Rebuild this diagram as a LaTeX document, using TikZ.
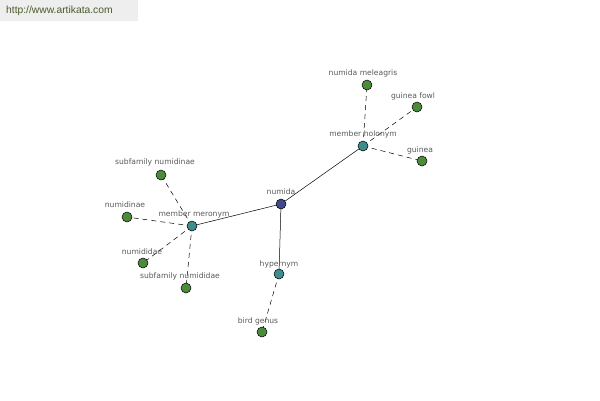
\documentclass[tikz,border=0pt]{standalone}
\usepackage{fontspec}
\setmainfont{Liberation Sans}
\newfontfamily\lblfont{DejaVu Sans}
\begin{document}
\begin{tikzpicture}[x=1pt,y=-1pt,
  dot/.style={circle,draw=black,line width=0.5pt,minimum size=10pt,inner sep=0pt},
  hubc/.style={dot,fill=cCenter},
  relc/.style={dot,fill=cRel},
  leafc/.style={dot,fill=cLeaf},
  lbl/.style={font=\lblfont\fontsize{7.6}{8}\selectfont,text=black!65,inner sep=0pt},
  solidedge/.style={draw=black,line width=0.5pt},
  dashedge/.style={draw=black,line width=0.5pt,dash pattern=on 5pt off 4pt}]
\definecolor{cCenter}{HTML}{3F4A8C}
\definecolor{cRel}{HTML}{3F8C8C}
\definecolor{cLeaf}{HTML}{4C8A3C}
\definecolor{bannerbg}{HTML}{EEEEEE}
\definecolor{bannertx}{HTML}{4A5A2A}
\useasboundingbox (0,0) rectangle (600,400);
\fill[white] (0,0) rectangle (600,400);
\fill[bannerbg] (0,0) rectangle (138,21);
\node[anchor=west,font=\fontsize{10.3}{11}\selectfont,text=bannertx,inner sep=0pt] (url) at (6,11) {http://www.artikata.com};
% nodes
\coordinate (pnumida) at (281,204);
\coordinate (pmero) at (192,226);
\coordinate (pholo) at (363,146);
\coordinate (phyper) at (279,274);
\coordinate (pmel) at (367,85);
\coordinate (pfowl) at (417,107);
\coordinate (pguinea) at (422,161);
\coordinate (psubnumidinae) at (161,175);
\coordinate (pnumidinae) at (127,217);
\coordinate (pnumididae) at (143,263);
\coordinate (psubnumididae) at (186,288);
\coordinate (pbird) at (262,332);
% edges
\draw[solidedge] (pnumida) -- (pmero);
\draw[solidedge] (pnumida) -- (pholo);
\draw[solidedge] (pnumida) -- (phyper);
\draw[dashedge] (pholo) -- (pmel);
\draw[dashedge] (pholo) -- (pfowl);
\draw[dashedge] (pholo) -- (pguinea);
\draw[dashedge] (pmero) -- (psubnumidinae);
\draw[dashedge] (pmero) -- (pnumidinae);
\draw[dashedge] (pmero) -- (pnumididae);
\draw[dashedge] (pmero) -- (psubnumididae);
\draw[dashedge] (phyper) -- (pbird);
% circles
\node[hubc] (numida) at (pnumida) {};
\node[relc] (mero) at (pmero) {};
\node[relc] (holo) at (pholo) {};
\node[relc] (hyper) at (phyper) {};
\node[leafc] (mel) at (pmel) {};
\node[leafc] (fowl) at (pfowl) {};
\node[leafc] (guinea) at (pguinea) {};
\node[leafc] (subnumidinae) at (psubnumidinae) {};
\node[leafc] (numidinae) at (pnumidinae) {};
\node[leafc] (numididae) at (pnumididae) {};
\node[leafc] (subnumididae) at (psubnumididae) {};
\node[leafc] (bird) at (pbird) {};
% labels
\node[lbl] (tnumida) at (281,192) {numida};
\node[lbl] (tmero) at (194,214) {member meronym};
\node[lbl] (tholo) at (363,134) {member holonym};
\node[lbl] (thyper) at (279,264) {hypernym};
\node[lbl] (tmel) at (363,73) {numida meleagris};
\node[lbl] (tfowl) at (413,96) {guinea fowl};
\node[lbl] (tguinea) at (420,150) {guinea};
\node[lbl] (tsubnumidinae) at (155,162) {subfamily numidinae};
\node[lbl] (tnumidinae) at (125,205) {numidinae};
\node[lbl] (tnumididae) at (142,252) {numididae};
\node[lbl] (tsubnumididae) at (180,276) {subfamily numididae};
\node[lbl] (tbird) at (258,321) {bird genus};
\end{tikzpicture}
\end{document}
